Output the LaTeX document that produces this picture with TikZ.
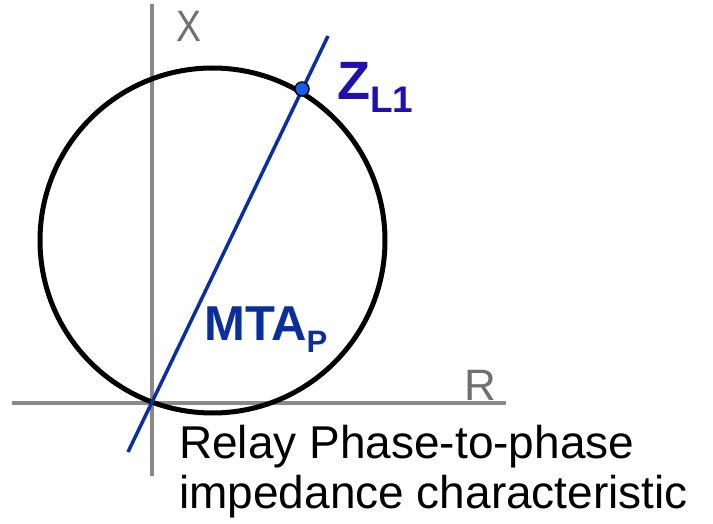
\documentclass[tikz,border=0pt]{standalone}
\usepackage{fontspec}
\setmainfont{Liberation Sans}
\definecolor{axisgray}{HTML}{8A8A8A}
\definecolor{labelgray}{HTML}{707070}
\definecolor{lineblue}{HTML}{0A2FA0}
\definecolor{zblue}{HTML}{2010B0}
\definecolor{mtablue}{HTML}{0A2F9C}
\definecolor{dotblue}{HTML}{1060F0}
\begin{document}
\begin{tikzpicture}[x=1pt,y=-1pt,
  axis/.style={draw=axisgray,line width=4.5pt},
  axislabel/.style={text=labelgray,inner sep=0pt,anchor=base west,font=\fontsize{44}{44}\selectfont},
  caption/.style={inner sep=0pt,anchor=base west,font=\fontsize{46}{50}\selectfont},
  bluelabel/.style={inner sep=0pt,anchor=base west},
]
\useasboundingbox (0,0) rectangle (713,524);
% axes
\coordinate (xtop) at (152,4);
\coordinate (xbot) at (152,476);
\coordinate (rl) at (12,403);
\coordinate (rr) at (506,403);
\draw[axis] (xtop) -- (xbot);
\draw[axis] (rl) -- (rr);
\node[axislabel,xscale=0.85] (xl) at (176,42) {X};
\node[axislabel] (rlab) at (464,400) {R};
% circle
\node[draw=black,line width=5pt,circle,minimum size=345pt,inner sep=0pt] (circ) at (212.5,240.5) {};
% MTA line
\coordinate (la) at (128,452);
\coordinate (lb) at (328,36);
\draw[lineblue,line width=3.5pt] (la) -- (lb);
% ZL1 point
\node[circle,draw=black,fill=dotblue,line width=1.5pt,minimum size=14pt,inner sep=0pt] (zp) at (302,89) {};
\node[bluelabel,text=zblue] (zl) at (337,100) {\fontsize{54}{54}\selectfont\bfseries Z\raisebox{-13pt}{\fontsize{37}{37}\selectfont L1}};
\node[bluelabel,text=mtablue] (mta) at (204,340) {\fontsize{49}{49}\selectfont\bfseries MTA\raisebox{-12pt}{\fontsize{31}{31}\selectfont P}};
% caption
\node[caption] (c1) at (179,458) {Relay Phase-to-phase};
\node[caption] (c2) at (179,508) {impedance characteristic};
\end{tikzpicture}
\end{document}
